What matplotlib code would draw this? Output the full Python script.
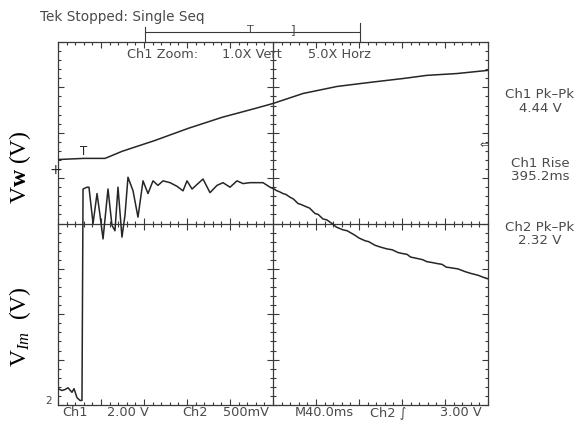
import numpy as np
import matplotlib
matplotlib.use("Agg")
import matplotlib.pyplot as plt
from matplotlib.ticker import MultipleLocator

plt.rcParams['mathtext.fontset'] = 'custom'
plt.rcParams['mathtext.rm'] = 'Liberation Serif'
plt.rcParams['mathtext.it'] = 'Liberation Serif:italic'
plt.rcParams['mathtext.bf'] = 'Liberation Serif:bold'

# ---------------- data (time in ms, volts) ----------------
ch1_t = [0, 24.2, 43.7, 48.4, 59.5, 90.2, 120.9, 152.6, 183.3, 200.0, 227.9,
         259.5, 290.2, 320.9, 343.3, 371.2, 400.0]
ch1_v = [0.48, 0.53, 0.53, 0.62, 0.84, 1.32, 1.85, 2.34, 2.73, 2.95, 3.39,
         3.70, 3.88, 4.05, 4.19, 4.27, 4.41]

ch2_t = [0, 3.7, 6.5, 9.3, 13.0, 14.9, 17.7, 20.5, 22.3, 23.3, 27.0, 28.8,
         32.6, 36.3, 39.1, 41.9, 46.5, 50.2, 53.0, 55.8, 59.5, 62.3, 65.1,
         69.8, 74.4, 79.1, 83.7, 88.4, 93.0, 97.7, 104.2, 110.7, 116.3, 120.0,
         124.7, 129.3, 134.9, 141.4, 147.9, 153.5, 160.0, 166.5, 172.1, 178.6,
         185.1, 190.7, 197.2, 201.0, 203.7, 206.0, 209.3, 212.0, 215.8, 219.0,
         223.3, 226.0, 229.8, 234.0, 239.1, 242.0, 246.5, 250.0, 254.9, 259.0,
         265.1, 269.0, 276.3, 280.0, 285.6, 289.0, 294.9, 300.0, 306.0, 311.0,
         316.3, 320.0, 324.7, 328.0, 332.1, 336.0, 339.5, 343.0, 347.9, 352.0,
         357.2, 361.0, 366.5, 372.0, 378.6, 384.0, 390.7, 395.0, 400.0]
ch2_v = [0.13, 0.11, 0.12, 0.14, 0.09, 0.13, 0.03, 0.00, 0.00, 2.33, 2.35, 2.35,
         1.95, 2.28, 2.04, 1.78, 2.33, 1.93, 1.87, 2.35, 1.80, 2.04, 2.46,
         2.31, 2.02, 2.42, 2.28, 2.42, 2.37, 2.42, 2.40, 2.36, 2.31, 2.42,
         2.33, 2.38, 2.44, 2.29, 2.37, 2.40, 2.35, 2.42, 2.39, 2.40,
         2.40, 2.40, 2.35, 2.33, 2.31, 2.30, 2.28, 2.27, 2.24, 2.22,
         2.17, 2.16, 2.14, 2.12, 2.06, 2.05, 2.00, 1.99, 1.95, 1.91,
         1.88, 1.87, 1.82, 1.79, 1.76, 1.75, 1.71, 1.69, 1.67, 1.66,
         1.63, 1.62, 1.61, 1.58, 1.57, 1.56, 1.55, 1.53, 1.52, 1.51,
         1.50, 1.47, 1.46, 1.45, 1.42, 1.40, 1.38, 1.36, 1.34]

t_trig = 24.2
ch1_scale, ch1_pos = 2.0, 1.17     # V/div, div
ch2_scale, ch2_pos = 0.5, -3.9
time_per_div = 40.0

W, H = 581, 426
fig = plt.figure(figsize=(W / 100, H / 100), dpi=100)
pos = [58 / W, 21 / H, 430 / W, 363 / H]
gcol = '#3a3a3a'
tcol = '#4a4a4a'
fs = 9.3

# border graticule
ax = fig.add_axes(pos)
ax.set_xlim(0, 10)
ax.set_ylim(-4, 4)
for s in ax.spines.values():
    s.set_color(gcol)
    s.set_linewidth(0.9)
ax.xaxis.set_major_locator(MultipleLocator(1))
ax.xaxis.set_minor_locator(MultipleLocator(0.2))
ax.yaxis.set_major_locator(MultipleLocator(1))
ax.yaxis.set_minor_locator(MultipleLocator(0.2))
ax.tick_params(which='both', direction='in', top=True, right=True,
               labelbottom=False, labelleft=False, color=gcol)
ax.tick_params(which='major', length=4.5, width=0.8)
ax.tick_params(which='minor', length=2.5, width=0.8)

# center crosshair graticule
axc = fig.add_axes(pos)
axc.patch.set_alpha(0)
axc.set_xlim(0, 10)
axc.set_ylim(-4, 4)
axc.spines['top'].set_visible(False)
axc.spines['right'].set_visible(False)
axc.spines['left'].set_position(('data', 5))
axc.spines['bottom'].set_position(('data', 0))
for s in ('left', 'bottom'):
    axc.spines[s].set_color(gcol)
    axc.spines[s].set_linewidth(0.9)
axc.xaxis.set_major_locator(MultipleLocator(1))
axc.xaxis.set_minor_locator(MultipleLocator(0.2))
axc.yaxis.set_major_locator(MultipleLocator(1))
axc.yaxis.set_minor_locator(MultipleLocator(0.2))
axc.tick_params(which='both', direction='inout', labelbottom=False,
                labelleft=False, color=gcol)
axc.tick_params(which='major', length=9, width=0.8)
axc.tick_params(which='minor', length=5, width=0.8)

# channel axes
ax1 = fig.add_axes(pos)
ax1.set_xlim(0, 10 * time_per_div)
ax1.set_ylim((-4 - ch1_pos) * ch1_scale, (4 - ch1_pos) * ch1_scale)
ax1.axis('off')
ax1.plot(ch1_t, ch1_v, color='#262626', lw=1.1)
v_tr = np.interp(t_trig, ch1_t, ch1_v)
ax1.text(t_trig, v_tr, 'T', ha='center', va='bottom', fontsize=8.5,
         color='#262626')

ax2 = fig.add_axes(pos)
ax2.set_xlim(0, 10 * time_per_div)
ax2.set_ylim((-4 - ch2_pos) * ch2_scale, (4 - ch2_pos) * ch2_scale)
ax2.axis('off')
ax2.plot(ch2_t, ch2_v, color='#262626', lw=1.1)


def ftext(x, y, s, **kw):
    kw.setdefault('color', tcol)
    kw.setdefault('va', 'center')
    kw.setdefault('ha', 'left')
    kw.setdefault('fontsize', fs)
    fig.text(x / W, 1 - y / H, s, **kw)


# top status line
ftext(40, 17, 'Tek Stopped: Single Seq', fontsize=9.8)
ftext(127, 55, 'Ch1 Zoom:')
ftext(222, 55, '1.0X Vert')
ftext(308, 55, '5.0X Horz')

# record bracket
lk = dict(color=gcol, lw=0.8, transform=fig.transFigure)
fig.add_artist(plt.Line2D([145 / W, 360 / W], [1 - 32 / H, 1 - 32 / H], **lk))
fig.add_artist(plt.Line2D([145 / W, 145 / W], [1 - 27 / H, 1 - 42 / H], **lk))
fig.add_artist(plt.Line2D([360 / W, 360 / W], [1 - 23 / H, 1 - 42 / H], **lk))
ftext(250, 30, 'T', ha='center', fontsize=8)
ftext(293, 31, ']', ha='center', fontsize=8.5)

# bottom status line
ftext(62, 413, 'Ch1')
ftext(107, 413, '2.00 V')
ftext(182, 413, 'Ch2')
ftext(223, 413, '500mV')
ftext(295, 413, 'M40.0ms')
ftext(370, 413, 'Ch2 \u222b')
ftext(440, 413, '3.00 V')

# measurements
for yy, s in [(95, 'Ch1 Pk\u2013Pk'), (108, '4.44 V'), (163, 'Ch1 Rise'),
              (176, '395.2ms'), (228, 'Ch2 Pk\u2013Pk'), (241, '2.32 V')]:
    ftext(540, yy, s, ha='center', fontsize=9.6)

# channel markers
ftext(55, 170, '+', ha='center', fontsize=10, color='#222222')
ftext(49, 401, '2', ha='center', fontsize=7.5)
ftext(484, 145, '\u21d0', ha='center', fontsize=8)

# axis labels
fig.text(20 / W, 1 - 167 / H, r'V$\mathbf{w}$ (V)', rotation=90,
         ha='center', va='center', fontsize=17, family='Liberation Serif')
fig.text(20 / W, 1 - 327 / H, r'V$_{Im}$  (V)', rotation=90,
         ha='center', va='center', fontsize=17, family='Liberation Serif')

fig.savefig('out.png', dpi=100)
